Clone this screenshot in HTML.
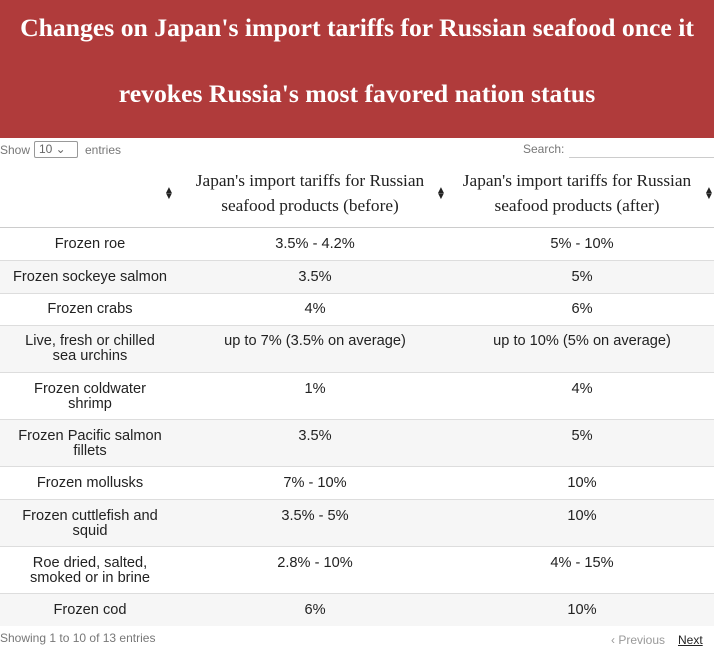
<!DOCTYPE html>
<html><head><style>
body{margin:0;width:714px;height:646px;overflow:hidden;background:#fff;font-family:"Liberation Sans",Arial,sans-serif;position:relative}
.band{position:absolute;left:0;top:0;width:714px;height:138px;background:#b03b3b;color:#fff;font-family:"Liberation Serif",serif;font-weight:bold;font-size:25.7px;text-align:center}
.band div{position:absolute;left:0;width:714px;white-space:nowrap}
.sm{position:absolute;font-size:12px;color:#777}
.sel{position:absolute;left:34px;top:141px;width:44px;height:17px;border:1px solid #999;border-radius:2px;box-sizing:border-box;font-size:12px;color:#666;padding-left:4px;line-height:15px}
.row{position:absolute;left:0;width:714px;border-top:1px solid #ddd;box-sizing:border-box}
.c{position:absolute;text-align:center;font-size:14.6px;color:#222;line-height:15px}
.h{position:absolute;text-align:center;font-family:"Liberation Serif",serif;font-size:17.3px;color:#222;line-height:25px;white-space:nowrap}
.s{position:absolute;font-size:10px;color:#222;line-height:6px}
</style></head><body>
<div class="band"><div style="top:13px">Changes on Japan's import tariffs for Russian seafood once it</div><div style="top:79px">revokes Russia's most favored nation status</div></div>
<div class="sm" style="left:0;top:143px">Show</div>
<div class="sel">10 &#8964;</div>
<div class="sm" style="left:85px;top:143px">entries</div>
<div class="sm" style="left:523px;top:142px">Search:</div>
<div style="position:absolute;left:569px;top:157px;width:145px;border-top:1px solid #ccc"></div>
<div class="h" style="left:185px;width:250px;top:168px">Japan's import tariffs for Russian<br>seafood products (before)</div>
<div class="h" style="left:452px;width:250px;top:168px">Japan's import tariffs for Russian<br>seafood products (after)</div>
<div class="s" style="left:164px;top:188px">▲<br>▼</div>
<div class="s" style="left:436px;top:188px">▲<br>▼</div>
<div class="s" style="left:704px;top:188px">▲<br>▼</div>

<div class="row" style="top:227px;height:33px;background:#fff;border-top:1px solid #ccc"></div>
<div class="row" style="top:260px;height:33px;background:#f6f6f6"></div>
<div class="row" style="top:293px;height:32px;background:#fff"></div>
<div class="row" style="top:325px;height:47px;background:#f6f6f6"></div>
<div class="row" style="top:372px;height:47px;background:#fff"></div>
<div class="row" style="top:419px;height:47px;background:#f6f6f6"></div>
<div class="row" style="top:466px;height:33px;background:#fff"></div>
<div class="row" style="top:499px;height:47px;background:#f6f6f6"></div>
<div class="row" style="top:546px;height:47px;background:#fff"></div>
<div class="row" style="top:593px;height:33px;background:#f6f6f6"></div>

<div class="c" style="left:0;width:180px;top:237px">Frozen roe</div><div class="c" style="left:180px;width:270px;top:237px">3.5% - 4.2%</div><div class="c" style="left:450px;width:264px;top:237px">5% - 10%</div>
<div class="c" style="left:0;width:180px;top:270px">Frozen sockeye salmon</div><div class="c" style="left:180px;width:270px;top:270px">3.5%</div><div class="c" style="left:450px;width:264px;top:270px">5%</div>
<div class="c" style="left:0;width:180px;top:302px">Frozen crabs</div><div class="c" style="left:180px;width:270px;top:302px">4%</div><div class="c" style="left:450px;width:264px;top:302px">6%</div>
<div class="c" style="left:0;width:180px;top:334px">Live, fresh or chilled<br>sea urchins</div><div class="c" style="left:180px;width:270px;top:334px">up to 7% (3.5% on average)</div><div class="c" style="left:450px;width:264px;top:334px">up to 10% (5% on average)</div>
<div class="c" style="left:0;width:180px;top:382px">Frozen coldwater<br>shrimp</div><div class="c" style="left:180px;width:270px;top:382px">1%</div><div class="c" style="left:450px;width:264px;top:382px">4%</div>
<div class="c" style="left:0;width:180px;top:429px">Frozen Pacific salmon<br>fillets</div><div class="c" style="left:180px;width:270px;top:429px">3.5%</div><div class="c" style="left:450px;width:264px;top:429px">5%</div>
<div class="c" style="left:0;width:180px;top:476px">Frozen mollusks</div><div class="c" style="left:180px;width:270px;top:476px">7% - 10%</div><div class="c" style="left:450px;width:264px;top:476px">10%</div>
<div class="c" style="left:0;width:180px;top:509px">Frozen cuttlefish and<br>squid</div><div class="c" style="left:180px;width:270px;top:509px">3.5% - 5%</div><div class="c" style="left:450px;width:264px;top:509px">10%</div>
<div class="c" style="left:0;width:180px;top:556px">Roe dried, salted,<br>smoked or in brine</div><div class="c" style="left:180px;width:270px;top:556px">2.8% - 10%</div><div class="c" style="left:450px;width:264px;top:556px">4% - 15%</div>
<div class="c" style="left:0;width:180px;top:603px">Frozen cod</div><div class="c" style="left:180px;width:270px;top:603px">6%</div><div class="c" style="left:450px;width:264px;top:603px">10%</div>

<div class="sm" style="left:0;top:631px">Showing 1 to 10 of 13 entries</div>
<div class="sm" style="left:611px;top:633px;color:#999">‹ Previous</div>
<div class="sm" style="left:678px;top:633px;color:#222;text-decoration:underline">Next</div>
</body></html>
